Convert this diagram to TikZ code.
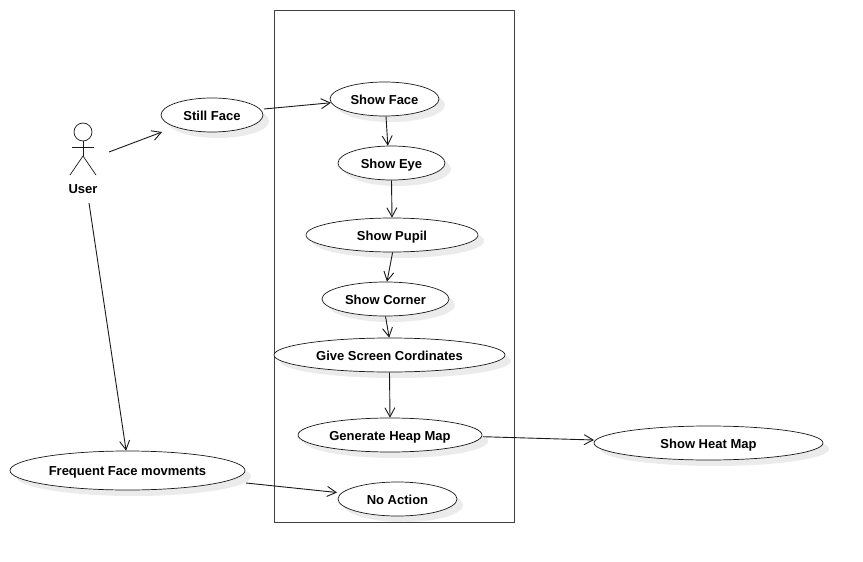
\documentclass[tikz,border=0pt]{standalone}
\usepackage{fontspec}
\setmainfont{Liberation Sans}
\usetikzlibrary{arrows.meta, positioning, shadows, shapes.geometric}
\definecolor{mainBlack}{gray}{0.1}
\definecolor{subGray}{gray}{0.25}
\definecolor{shadowGray}{gray}{0.92}
\tikzset{
    usecase/.style={ellipse, draw=mainBlack, fill=white, line width=0.7pt, inner sep=0pt, minimum height=34pt,
        text height=13pt, text depth=3pt, font=\bfseries\fontsize{13pt}{15pt}\selectfont,
        drop shadow={shadow xshift=6pt, shadow yshift=-6pt, fill=shadowGray, opacity=1}},
    flow/.style={-{Straight Barb[length=9pt,width=10pt]}, mainBlack, line width=0.9pt},
    figure/.style={mainBlack, line width=0.7pt},
}
\begin{document}
\begin{tikzpicture}[x=1pt, y=-1pt]
    \useasboundingbox (0,0) rectangle (863,562);

    % System box
    \draw[subGray, line width=1pt] (274,10) rectangle (514,522);

    % Use cases
    \node[usecase, minimum width=102pt] (still) at (212,115) {Still Face};
    \node[usecase, minimum width=109pt] (face) at (384.5,99) {Show Face};
    \node[usecase, minimum width=107pt] (eye) at (391.5,163) {Show Eye};
    \node[usecase, minimum width=172pt] (pupil) at (392,235) {Show Pupil};
    \node[usecase, minimum width=127pt] (corner) at (385.5,299) {Show Corner};
    \node[usecase, minimum width=231pt] (screen) at (389.5,355) {Give Screen Cordinates};
    \node[usecase, minimum width=184pt] (heap) at (390,435) {Generate Heap Map};
    \node[usecase, minimum width=229pt] (heat) at (708.5,443) {Show Heat Map};
    \node[usecase, minimum width=235pt, minimum height=39pt] (movement) at (127.5,470.5) {Frequent Face movments};
    \node[usecase, minimum width=119pt] (noaction) at (397.5,499) {No Action};

    % Actor
    \draw[figure] (83,132) circle (9pt);
    \draw[figure] (83,141) -- (83,156);
    \draw[figure] (72,147) -- (94,147);
    \draw[figure] (70,175) -- (83,156) -- (96,175);
    \node[font=\bfseries\fontsize{13pt}{15pt}\selectfont, text height=13pt, text depth=3pt] (user) at (83,188) {User};

    % Free ends
    \coordinate (userOut) at (109,152);
    \coordinate (userDown) at (89,203);
    \coordinate (stillIn) at (162,132);
    \coordinate (stillOut) at (264,109);
    \coordinate (moveOut) at (246,483);
    \coordinate (noactionIn) at (337,492.5);
    \coordinate (heapOut) at (483,436.7);
    \coordinate (heatIn) at (594,440);

    % Connectors
    \draw[flow] (userOut) -- (stillIn);
    \draw[flow] (userDown) -- (movement.94);
    \draw[flow] (stillOut) -- (face.184);
    \draw[flow] (face.270) ++(1.5,0) -- (eye.102);
    \draw[flow] (eye.270) -- (pupil.90);
    \draw[flow] (pupil.272) -- (corner.85);
    \draw[flow] (corner.270) -- (screen.91);
    \draw[flow] (screen.270) -- (heap.90);
    \draw[flow] (heapOut) -- (heatIn);
    \draw[flow] (moveOut) -- (noactionIn);
\end{tikzpicture}
\end{document}
